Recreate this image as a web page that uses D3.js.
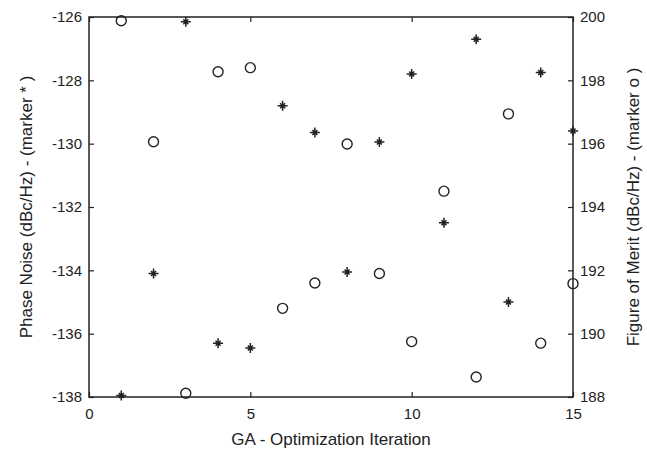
<!DOCTYPE html>
<html>
<head>
<meta charset="utf-8">
<script src="https://d3js.org/d3.v7.min.js"></script>
<style>
  body { margin: 0; background: #fff; }
  text { font-family: "Liberation Sans", Arial, sans-serif; fill: #222; }
</style>
</head>
<body>
<script>
// iteration numbers
var iterations = [1, 2, 3, 4, 5, 6, 7, 8, 9, 10, 11, 12, 13, 14, 15];
// phase noise, left axis (marker *)
var phaseNoise = [-137.95, -134.1, -126.15, -136.3, -136.45, -128.8, -129.65, -134.05,
                  -129.95, -127.8, -132.5, -126.7, -135.0, -127.75, -129.6];
// figure of merit, right axis (marker o)
var fom = [199.88, 196.06, 188.12, 198.27, 198.4, 190.8, 191.6, 195.99,
           191.9, 189.75, 194.5, 188.63, 196.94, 189.7, 191.58];

var xTicks = [0, 5, 10, 15];
var leftTicks = [-138, -136, -134, -132, -130, -128, -126];
var rightTicks = [188, 190, 192, 194, 196, 198, 200];

var W = 647, H = 450;
var pLeft = 89, pRight = 573, pTop = 17, pBottom = 397;

var svg = d3.select("body").append("svg")
  .attr("width", W).attr("height", H);

var x = d3.scaleLinear().domain([0, 15]).range([pLeft, pRight]);
var yL = d3.scaleLinear().domain([-138, -126]).range([pBottom, pTop]);
var yR = d3.scaleLinear().domain([188, 200]).range([pBottom, pTop]);

var tickLen = 5;
// plain hyphen for negatives, like the original
var fmt = function(d) { return String(d); };

// box
svg.append("rect")
  .attr("x", pLeft).attr("y", pTop)
  .attr("width", pRight - pLeft).attr("height", pBottom - pTop)
  .attr("fill", "none").attr("stroke", "#222").attr("stroke-width", 1.5);

// x axis (bottom + mirrored top ticks)
svg.append("g").attr("transform", "translate(0," + pBottom + ")")
  .call(d3.axisBottom(x).tickValues(xTicks).tickFormat(fmt).tickSizeInner(-tickLen).tickSizeOuter(0).tickPadding(11));
svg.append("g").attr("transform", "translate(0," + pTop + ")")
  .call(d3.axisTop(x).tickValues(xTicks).tickSizeInner(-tickLen).tickSizeOuter(0).tickFormat(""));

// left axis
svg.append("g").attr("transform", "translate(" + pLeft + ",0)")
  .call(d3.axisLeft(yL).tickValues(leftTicks).tickFormat(fmt).tickSizeInner(-tickLen).tickSizeOuter(0).tickPadding(7));

// right axis
svg.append("g").attr("transform", "translate(" + pRight + ",0)")
  .call(d3.axisRight(yR).tickValues(rightTicks).tickFormat(fmt).tickSizeInner(-tickLen).tickSizeOuter(0).tickPadding(7));

svg.selectAll(".domain").remove();
svg.selectAll(".tick line").attr("stroke", "#222").attr("stroke-width", 1.2);
svg.selectAll(".tick text").style("font-size", "15px").attr("fill", "#222");

// axis labels
svg.append("text")
  .attr("x", (pLeft + pRight) / 2).attr("y", 445)
  .attr("text-anchor", "middle").style("font-size", "17px")
  .text("GA - Optimization Iteration");

svg.append("text")
  .attr("transform", "translate(32," + (pTop + pBottom) / 2 + ") rotate(-90)")
  .attr("text-anchor", "middle").style("font-size", "17px")
  .text("Phase Noise (dBc/Hz) - (marker * )");

svg.append("text")
  .attr("transform", "translate(639," + (pTop + pBottom) / 2 + ") rotate(-90)")
  .attr("text-anchor", "middle").style("font-size", "17px")
  .text("Figure of Merit (dBc/Hz) - (marker o )");

// star markers
var stars = svg.append("g").selectAll("g")
  .data(iterations.map(function(d, i) { return { it: d, v: phaseNoise[i] }; }))
  .enter().append("g")
  .attr("transform", function(d) { return "translate(" + x(d.it) + "," + yL(d.v) + ")"; });

stars.append("path")
  .attr("d", "M-5,0L5,0M0,-5L0,5M-2.5,-2.5L2.5,2.5M-2.5,2.5L2.5,-2.5")
  .attr("stroke", "#222").attr("stroke-width", 1.5);

// circle markers
svg.append("g").selectAll("circle")
  .data(iterations.map(function(d, i) { return { it: d, v: fom[i] }; }))
  .enter().append("circle")
  .attr("cx", function(d) { return x(d.it); })
  .attr("cy", function(d) { return yR(d.v); })
  .attr("r", 5)
  .attr("fill", "none").attr("stroke", "#222").attr("stroke-width", 1.4);
</script>
</body>
</html>
